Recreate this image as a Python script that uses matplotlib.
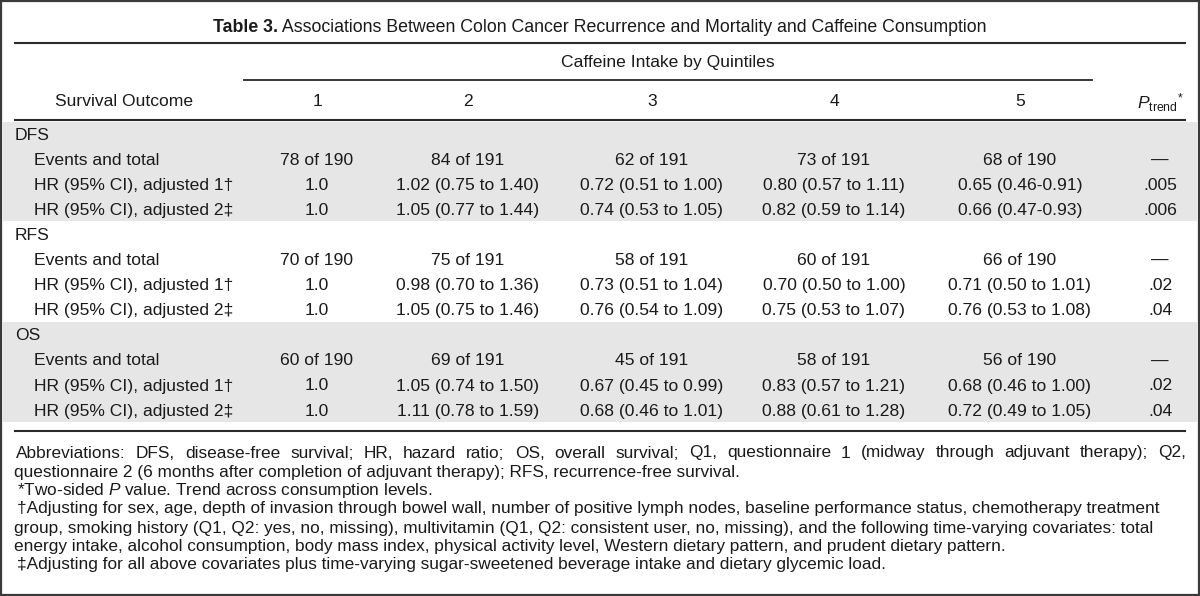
import matplotlib
matplotlib.use("Agg")
import matplotlib.pyplot as plt
from matplotlib.patches import Rectangle

plt.rcParams['font.family'] = ['Liberation Sans', 'DejaVu Sans']
plt.rcParams['mathtext.fontset'] = 'custom'
plt.rcParams['mathtext.rm'] = 'Liberation Sans'
plt.rcParams['mathtext.it'] = 'Liberation Sans:italic'

# ---------------- data ----------------
title_bold = "Table 3."
title_rest = " Associations Between Colon Cancer Recurrence and Mortality and Caffeine Consumption"
spanner = "Caffeine Intake by Quintiles"
stub_header = "Survival Outcome"
quintiles = ["1", "2", "3", "4", "5"]
outcomes = ["DFS", "RFS", "OS"]
row_labels = ["Events and total", "HR (95% CI), adjusted 1\u2020", "HR (95% CI), adjusted 2\u2021"]

dfs_events = ["78 of 190", "84 of 191", "62 of 191", "73 of 191", "68 of 190"]
dfs_hr1 = ["1.0", "1.02 (0.75 to 1.40)", "0.72 (0.51 to 1.00)", "0.80 (0.57 to 1.11)", "0.65 (0.46-0.91)"]
dfs_hr2 = ["1.0", "1.05 (0.77 to 1.44)", "0.74 (0.53 to 1.05)", "0.82 (0.59 to 1.14)", "0.66 (0.47-0.93)"]
dfs_p = ["\u2014", ".005", ".006"]

rfs_events = ["70 of 190", "75 of 191", "58 of 191", "60 of 191", "66 of 190"]
rfs_hr1 = ["1.0", "0.98 (0.70 to 1.36)", "0.73 (0.51 to 1.04)", "0.70 (0.50 to 1.00)", "0.71 (0.50 to 1.01)"]
rfs_hr2 = ["1.0", "1.05 (0.75 to 1.46)", "0.76 (0.54 to 1.09)", "0.75 (0.53 to 1.07)", "0.76 (0.53 to 1.08)"]
rfs_p = ["\u2014", ".02", ".04"]

os_events = ["60 of 190", "69 of 191", "45 of 191", "58 of 191", "56 of 190"]
os_hr1 = ["1.0", "1.05 (0.74 to 1.50)", "0.67 (0.45 to 0.99)", "0.83 (0.57 to 1.21)", "0.68 (0.46 to 1.00)"]
os_hr2 = ["1.0", "1.11 (0.78 to 1.59)", "0.68 (0.46 to 1.01)", "0.88 (0.61 to 1.28)", "0.72 (0.49 to 1.05)"]
os_p = ["\u2014", ".02", ".04"]

footnote_abbrev = ("Abbreviations: DFS, disease-free survival; HR, hazard ratio; OS, overall survival; Q1, "
                   "questionnaire 1 (midway through adjuvant therapy); Q2,")
footnote_abbrev2 = "questionnaire 2 (6 months after completion of adjuvant therapy); RFS, recurrence-free survival."
footnote_star = "*Two-sided $\\mathit{P}$ value. Trend across consumption levels."
footnote_dagger = [
    "\u2020Adjusting for sex, age, depth of invasion through bowel wall, number of positive lymph nodes, baseline performance status, chemotherapy treatment",
    "group, smoking history (Q1, Q2: yes, no, missing), multivitamin (Q1, Q2: consistent user, no, missing), and the following time-varying covariates: total",
    "energy intake, alcohol consumption, body mass index, physical activity level, Western dietary pattern, and prudent dietary pattern.",
]
footnote_ddagger = "\u2021Adjusting for all above covariates plus time-varying sugar-sweetened beverage intake and dietary glycemic load."

groups = [
    (outcomes[0], [dfs_events, dfs_hr1, dfs_hr2], dfs_p),
    (outcomes[1], [rfs_events, rfs_hr1, rfs_hr2], rfs_p),
    (outcomes[2], [os_events, os_hr1, os_hr2], os_p),
]

# ---------------- layout ----------------
W, H = 1200, 596
fig = plt.figure(figsize=(12, 5.96), dpi=100)
ax = fig.add_axes([0, 0, 1, 1])
ax.set_xlim(0, W)
ax.set_ylim(H, 0)
ax.axis("off")

TXT = "#1a1a1a"
LINE = "#2a2a2a"
GRAY = "#e6e6e6"
FS = 12.6
FFS = 12.4
TFS = 12.8

col_x = [317, 468, 652, 834, 1020]
p_x = 1160
left, right = 14, 1186

# border
ax.add_patch(Rectangle((1, 1), W - 2.5, H - 2.5, fill=False, edgecolor="#3a3a3a", lw=1.6))

# title
t1 = ax.text(0, 28, title_bold, fontsize=TFS, fontweight="bold", color=TXT,
             va="center", ha="left", family=["Liberation Sans Narrow", "Liberation Sans"])
fig.canvas.draw()
r = fig.canvas.get_renderer()
t2 = ax.text(0, 28, title_rest, fontsize=TFS, color=TXT, va="center", ha="left")
fig.canvas.draw()
w1 = t1.get_window_extent(r).width
w2 = t2.get_window_extent(r).width
x0 = 600 - (w1 + w2) / 2
t1.set_x(x0)
t2.set_x(x0 + w1)

ax.plot([left, right], [43, 43], color=LINE, lw=1.5, solid_capstyle="butt")

# spanner
ax.text((243 + 1093) / 2, 63, spanner, fontsize=FS, color=TXT, va="center", ha="center")
ax.plot([243, 1093], [80, 80], color=LINE, lw=1.3, solid_capstyle="butt")

# header row
ax.text(124, 102, stub_header, fontsize=FS, color=TXT, va="center", ha="center")
for x, q in zip(col_x, quintiles):
    ax.text(x, 102, q, fontsize=FS, color=TXT, va="center", ha="center")
ax.text(p_x, 103, r"$\mathit{P}_{\mathrm{trend}}{}^{*}$", fontsize=FS, color=TXT, va="center", ha="center")
ax.plot([left, right], [120, 120], color=LINE, lw=1.5, solid_capstyle="butt")

# body
row_h = 25.1
y_start = 135
band_top = 122
for gi, (name, rows, pvals) in enumerate(groups):
    gy = y_start + gi * 4 * row_h
    if gi % 2 == 0:
        top = band_top if gi == 0 else gy - 13.5
        bottom = gy + 3 * row_h + 11
        ax.add_patch(Rectangle((3, top), W - 6, bottom - top,
                               facecolor=GRAY, edgecolor="none", zorder=0))
    ax.text(15, gy, name, fontsize=FS, color=TXT, va="center", ha="left")
    for ri, (lab, vals) in enumerate(zip(row_labels, rows)):
        y = gy + (ri + 1) * row_h
        ax.text(34, y, lab, fontsize=FS, color=TXT, va="center", ha="left")
        for x, v in zip(col_x, vals):
            ax.text(x, y, v, fontsize=FS, color=TXT, va="center", ha="center")
        ax.text(p_x, y, pvals[ri], fontsize=FS, color=TXT, va="center", ha="center")

ax.plot([left, right], [431, 431], color=LINE, lw=1.5, solid_capstyle="butt")

# footnotes
fy = [453, 472, 490.5, 509, 528, 546.5, 565]


def justify(y, text, x0, x1, fs):
    words = text.split(" ")
    arts = [ax.text(0, y, w_, fontsize=fs, color=TXT, va="center", ha="left") for w_ in words]
    fig.canvas.draw()
    ws = [a.get_window_extent(r).width for a in arts]
    gap = (x1 - x0 - sum(ws)) / (len(words) - 1)
    x = x0
    for a, w_ in zip(arts, ws):
        a.set_x(x)
        x += w_ + gap


justify(fy[0], footnote_abbrev, 16, right, FFS)
ax.text(14, fy[1], footnote_abbrev2, fontsize=FFS, color=TXT, va="center", ha="left")
ax.text(17, fy[2], footnote_star, fontsize=FFS, color=TXT, va="center", ha="left")
ax.text(17, fy[3], footnote_dagger[0], fontsize=FFS, color=TXT, va="center", ha="left")
ax.text(14, fy[4], footnote_dagger[1], fontsize=FFS, color=TXT, va="center", ha="left")
ax.text(14, fy[5], footnote_dagger[2], fontsize=FFS, color=TXT, va="center", ha="left")
ax.text(17, fy[6], footnote_ddagger, fontsize=FFS, color=TXT, va="center", ha="left")

fig.savefig("out.png", dpi=100)
